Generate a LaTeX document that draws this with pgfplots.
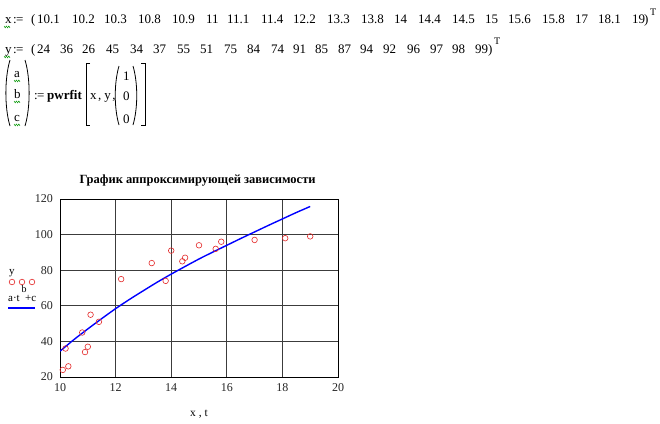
\documentclass[border=0pt]{standalone}
\usepackage{fontspec}
\setmainfont{Liberation Serif}
\usepackage{pgfplots}
\usepackage{pgfplotstable}
\pgfplotsset{compat=1.18}

\definecolor{mcred}{RGB}{228,40,40}
\definecolor{mcblue}{RGB}{0,0,255}
\definecolor{mcgreen}{RGB}{0,150,0}
\definecolor{mcgrid}{RGB}{60,60,60}

\pgfplotstableread{
x y
10.1 24
10.2 36
10.3 26
10.8 45
10.9 34
11 37
11.1 55
11.4 51
12.2 75
13.3 84
13.8 74
14 91
14.4 85
14.5 87
15 94
15.6 92
15.8 96
17 97
18.1 98
19 99
}\pointsdata

\pgfplotstableread{
t f
10 34.5
10.5 41
11 47
11.5 52.8
12 58.4
12.5 63.6
13 68.5
13.5 73.3
14 77.8
14.5 82.1
15 86.3
15.5 90.2
16 94
16.5 97.8
17 101.5
17.5 105.2
18 108.8
18.5 112.4
19 115.8
}\fitdata

\newcommand{\wavy}[2]{%
  \draw[mcgreen, line width=0.5pt] (#1,-#2) -- ++(1.2,-1.8) -- ++(1.2,1.8) -- ++(1.2,-1.8) -- ++(1.2,1.8) -- ++(1.2,-1.8);}
\newcommand{\defeq}{:\kern-0.6pt=}

\begin{document}
\begin{tikzpicture}[x=1pt,y=1pt]
\useasboundingbox (0,0) rectangle (660,-423);
\fill[white] (0,0) rectangle (660,-423);

% ---- line 1: x := (...)^T
\begin{scope}[every node/.style={inner sep=0pt, anchor=base west, font=\fontsize{13}{15}\selectfont}]
\node at (5,-23) {x};
\node at (13,-23) {\defeq};
\node at (31,-23) {(};
\foreach \v/\p in {10.1/37, 10.2/72, 10.3/104, 10.8/138, 10.9/172, 11/206, 11.1/227, 11.4/261, 12.2/293, 13.3/327, 13.8/361, 14/394, 14.4/418, 14.5/452, 15/485, 15.6/508, 15.8/542, 17/575, 18.1/598, 19/632}
  \node at (\p,-23) {\v};
\node at (644,-23) {)};
\node[font=\fontsize{10}{12}\selectfont] at (650,-15) {T};
% ---- line 2: y := (...)^T
\node at (5,-53) {y};
\node at (13,-53) {\defeq};
\node at (31,-53) {(};
\foreach \v/\p in {24/37, 36/60, 26/82, 45/106, 34/130, 37/153, 55/177, 51/200, 75/224, 84/247, 74/271, 91/293, 85/315, 87/338, 94/360, 92/383, 96/407, 97/430, 98/452, 99/475}
  \node at (\p,-53) {\v};
\node at (488,-53) {)};
\node[font=\fontsize{10}{12}\selectfont] at (494,-44) {T};
% ---- (a b c) := pwrfit[x, y, (1 0 0)]
\node at (14,-77) {a};
\node at (14,-98) {b};
\node at (14,-121) {c};
\node at (34,-99) {\defeq};
\node[font=\bfseries\fontsize{13}{15}\selectfont] at (47,-99) {pwrfit};
\node at (90,-99) {x\hspace{1.5pt},\hspace{3pt}y\hspace{1.5pt},};
\node at (123,-80) {1};
\node at (123,-100) {0};
\node at (123,-123) {0};
\end{scope}
\wavy{4}{26}
\wavy{4}{56}
\wavy{14}{80}
\wavy{14}{101}
\wavy{14}{124}
\draw[line width=0.8pt] (10,-60) .. controls (4.5,-78) and (4.5,-108) .. (10,-126);
\draw[line width=0.8pt] (25,-60) .. controls (30.5,-78) and (30.5,-108) .. (25,-126);
\draw[line width=0.8pt] (119,-66) .. controls (114,-83) and (114,-108) .. (119,-125);
\draw[line width=0.8pt] (133,-66) .. controls (138,-83) and (138,-108) .. (133,-125);
\draw[line width=0.8pt] (90,-63) -- (86,-63) -- (86,-125) -- (90,-125);
\draw[line width=0.8pt] (141,-63) -- (145,-63) -- (145,-125) -- (141,-125);

% ---- main chart
\begin{axis}[
  at={(60pt,-377pt)}, anchor=south west,
  scale only axis, width=278pt, height=178pt,
  xmin=10, xmax=20, ymin=20, ymax=120,
  xtick={10,12,...,20}, ytick={20,40,...,120},
  grid=major,
  major grid style={mcgrid, line width=0.9pt},
  major tick length=0pt,
  axis line style={black, line width=0.9pt},
  tick label style={font=\fontsize{12}{14}\selectfont, text=black!85, inner sep=0pt},
  /pgf/number format/assume math mode=true,
  xticklabel shift=6pt,
  yticklabel shift=7pt,
  title={График аппроксимирующей зависимости},
  title style={at={(axis description cs:0.495,1)}, anchor=base, yshift=10pt, inner sep=0pt,
    font=\bfseries\fontsize{12.5}{14}\selectfont},
  xlabel={x , t},
  xlabel style={at={(axis description cs:0.5,0)}, anchor=base, yshift=-39pt, inner sep=0pt,
    font=\fontsize{11.5}{13}\selectfont},
]
\addplot[only marks, mark=o, mark size=2.8pt, mcred, mark options={line width=0.6pt}] table[x=x,y=y] {\pointsdata};
\addplot[mcblue, line width=1.4pt, smooth] table[x=t,y=f] {\fitdata};
\end{axis}

% ---- legend (Mathcad style)
\begin{axis}[
  at={(0pt,-320pt)}, anchor=south west,
  scale only axis, width=60pt, height=60pt,
  xmin=0, xmax=60, ymin=260, ymax=320, y dir=reverse,
  hide axis, clip=false,
]
\addplot[only marks, mark=o, mark size=2.8pt, mcred, mark options={line width=0.6pt}] coordinates {(12,282) (22,282) (32,282)};
\addplot[mcblue, line width=1.4pt] coordinates {(8,308) (35,308)};
\end{axis}
\begin{scope}[every node/.style={inner sep=0pt, anchor=base west, font=\fontsize{11}{12}\selectfont}]
\node at (9,-274) {y};
\node at (8,-301) {a·t};
\node[font=\fontsize{10}{12}\selectfont] at (21.5,-292) {b};
\node at (25,-301) {+c};
\end{scope}
\end{tikzpicture}
\end{document}
